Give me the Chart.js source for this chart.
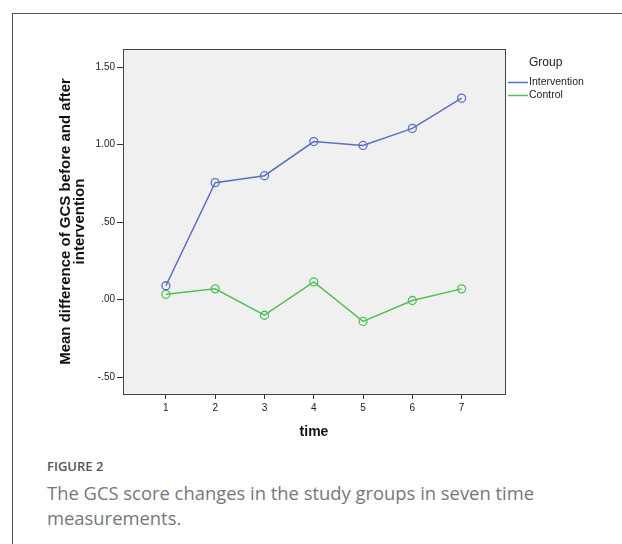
<!DOCTYPE html>
<html>
<head>
<meta charset="utf-8">
<script src="https://cdn.jsdelivr.net/npm/chart.js@4"></script>
<style>
  html, body { margin: 0; padding: 0; background: #fff; }
  body { width: 622px; height: 544px; position: relative; overflow: hidden; }
  .frame {
    position: absolute; left: 12px; top: 13px; width: 640px; height: 560px;
    border-left: 1px solid #555; border-top: 1px solid #555;
  }
  #chart { position: absolute; left: 0; top: 0; }
  .caption {
    position: absolute; left: 47px; top: 457px; width: 510px;
    font-family: "Open Sans", sans-serif; color: #777;
  }
  .caption .label { font-size: 13px; font-weight: 600; color: #555; line-height: 18px; }
  .caption .text { font-size: 18.4px; line-height: 25px; margin-top: 5px; }
</style>
</head>
<body>
<div class="frame"></div>
<canvas id="chart" width="622" height="450"></canvas>
<div class="caption">
  <div class="label">FIGURE 2</div>
  <div class="text">The GCS score changes in the study groups in seven time measurements.</div>
</div>
<script>
// values
const times = [1, 2, 3, 4, 5, 6, 7];
const intervention = [0.09, 0.755, 0.80, 1.02, 0.995, 1.105, 1.30];
const control = [0.035, 0.07, -0.10, 0.115, -0.14, -0.005, 0.07];
const yTicks = [-0.5, 0, 0.5, 1, 1.5];
const yTickLabels = ['-.50', '.00', '.50', '1.00', '1.50'];
const groupNames = ['Intervention', 'Control'];

const blue = '#5b70c4';
const green = '#4fc257';

function toPoints(values) {
  return times.map((t, i) => ({ x: t, y: values[i] }));
}

// plot box background and border (SPSS style)
const plotBox = {
  id: 'plotBox',
  beforeDraw(chart) {
    const { ctx, chartArea: a } = chart;
    ctx.save();
    ctx.fillStyle = '#f0f0f0';
    ctx.fillRect(a.left, a.top, a.right - a.left, a.bottom - a.top);
    ctx.restore();
  },
  afterDraw(chart) {
    const { ctx, chartArea: a } = chart;
    ctx.save();
    ctx.strokeStyle = '#444';
    ctx.lineWidth = 1;
    ctx.strokeRect(a.left + 0.5, a.top + 0.5, a.right - a.left, a.bottom - a.top);
    ctx.restore();
  }
};

// legend on the right with a "Group" heading
const groupLegend = {
  id: 'groupLegend',
  afterDraw(chart) {
    const { ctx, chartArea: a } = chart;
    const x0 = a.right + 3;
    ctx.save();
    ctx.fillStyle = '#222';
    ctx.textBaseline = 'middle';
    ctx.font = '12px "Liberation Sans", Arial, sans-serif';
    ctx.fillText('Group', x0 + 21, 63);
    ctx.font = '10.5px "Liberation Sans", Arial, sans-serif';
    chart.data.datasets.forEach((ds, i) => {
      const y = 82.5 + i * 13;
      ctx.strokeStyle = ds.borderColor;
      ctx.lineWidth = 1.5;
      ctx.beginPath();
      ctx.moveTo(x0, y);
      ctx.lineTo(x0 + 20, y);
      ctx.stroke();
      ctx.fillText(ds.label, x0 + 21, y);
    });
    ctx.restore();
  }
};

new Chart(document.getElementById('chart').getContext('2d'), {
  type: 'line',
  data: {
    datasets: [
      {
        label: groupNames[0],
        data: toPoints(intervention),
        borderColor: blue,
        pointBorderColor: blue,
        pointBackgroundColor: 'rgba(0,0,0,0)',
        borderWidth: 1.5,
        pointRadius: 4,
        pointBorderWidth: 1.3
      },
      {
        label: groupNames[1],
        data: toPoints(control),
        borderColor: green,
        pointBorderColor: green,
        pointBackgroundColor: 'rgba(0,0,0,0)',
        borderWidth: 1.5,
        pointRadius: 4,
        pointBorderWidth: 1.3
      }
    ]
  },
  options: {
    responsive: false,
    animation: false,
    devicePixelRatio: 1,
    layout: { padding: { top: 49, right: 117, left: 0, bottom: 0 } },
    plugins: {
      legend: { display: false },
      tooltip: { enabled: false }
    },
    scales: {
      x: {
        type: 'linear',
        min: 0.13,
        max: 7.88,
        afterBuildTicks: s => { s.ticks = times.map(v => ({ value: v })); },
        afterFit: s => { s.height = 56; },
        grid: { drawOnChartArea: false, drawTicks: true, tickLength: 5, color: '#333' },
        border: { color: '#444' },
        ticks: {
          padding: 3,
          color: '#222',
          font: { family: '"Liberation Sans", Arial, sans-serif', size: 10 },
          maxRotation: 0
        },
        title: {
          display: true,
          text: 'time',
          color: '#111',
          font: { family: '"Liberation Sans", Arial, sans-serif', size: 14, weight: 'bold', lineHeight: 1.1 },
          padding: { top: 0, bottom: 10 }
        }
      },
      y: {
        min: -0.608,
        max: 1.617,
        afterBuildTicks: s => { s.ticks = yTicks.map(v => ({ value: v })); },
        afterFit: s => { s.width = 123; },
        grid: { drawOnChartArea: false, drawTicks: true, tickLength: 6, color: '#333' },
        border: { color: '#444' },
        ticks: {
          padding: 2,
          color: '#222',
          font: { family: '"Liberation Sans", Arial, sans-serif', size: 10 },
          callback: v => yTickLabels[yTicks.indexOf(v)]
        },
        title: {
          display: true,
          text: ['Mean difference of GCS before and after', 'intervention'],
          color: '#111',
          font: { family: '"Liberation Sans", Arial, sans-serif', size: 15, weight: 'bold', lineHeight: 14 / 15 },
          padding: { top: 59, bottom: 0 }
        }
      }
    }
  },
  plugins: [plotBox, groupLegend]
});
</script>
</body>
</html>
